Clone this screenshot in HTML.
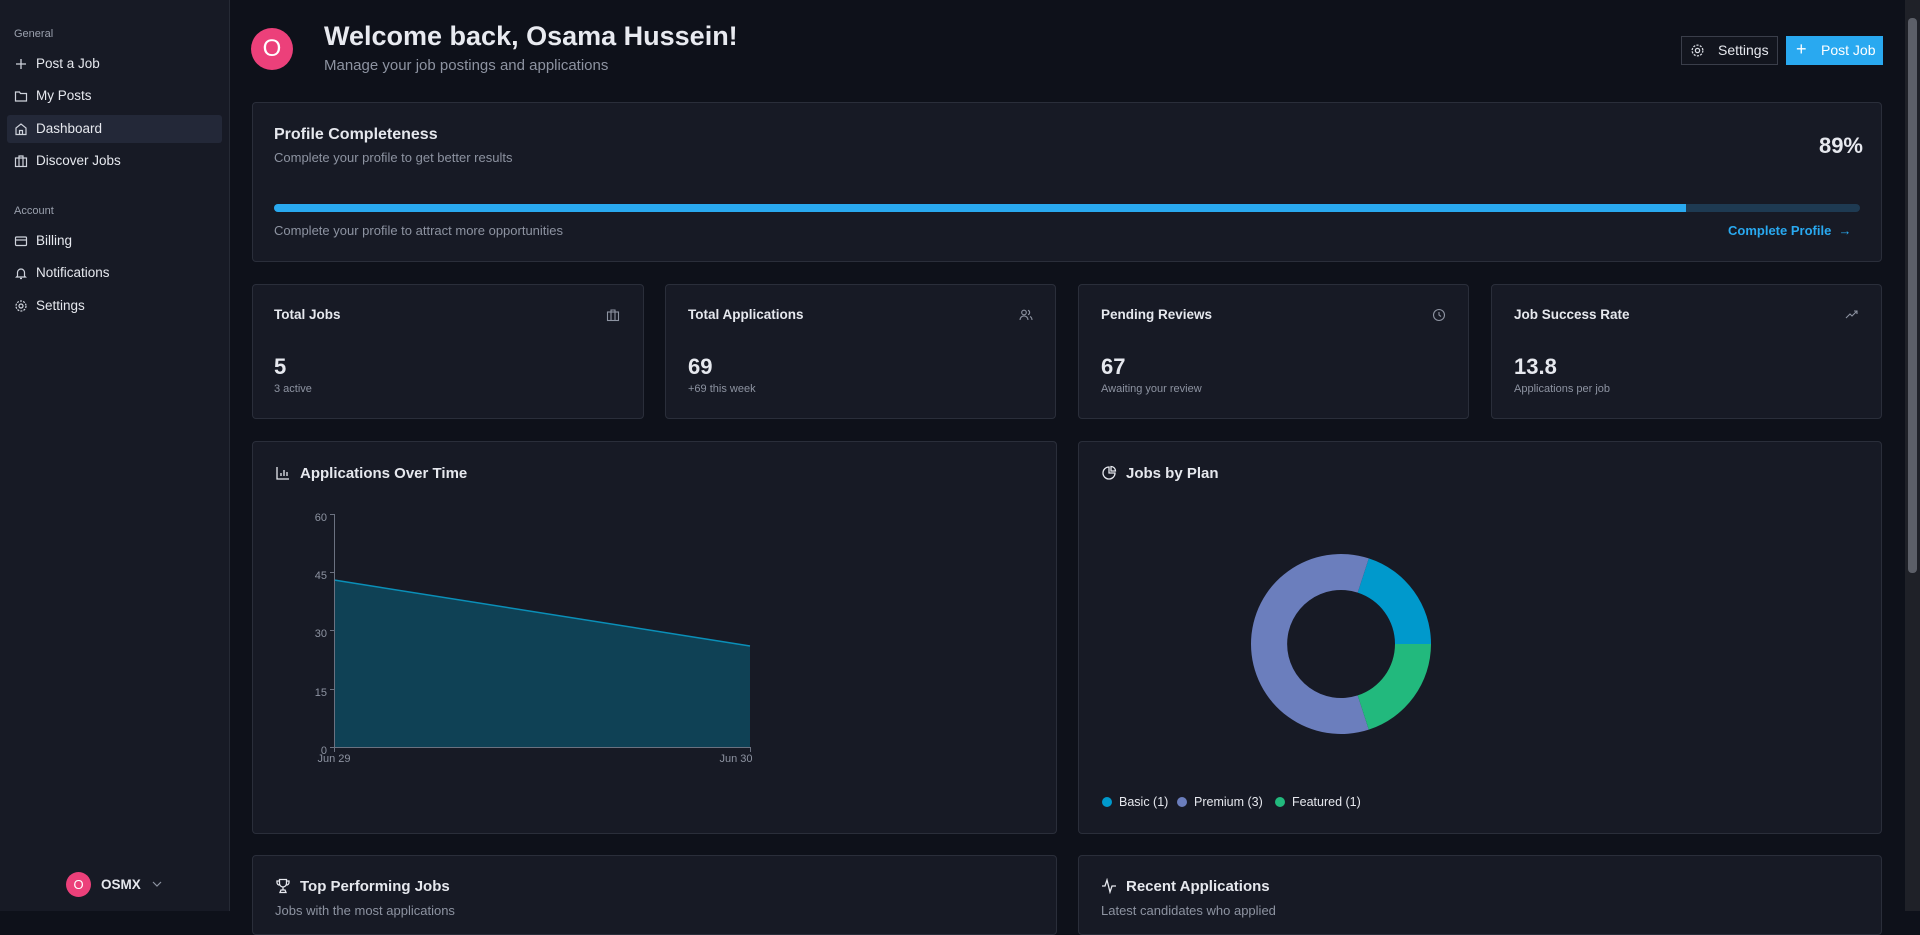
<!DOCTYPE html>
<html><head><meta charset="utf-8">
<style>
*{margin:0;padding:0;box-sizing:border-box}
body{width:1920px;height:911px;overflow:hidden;background:#0e111a;font-family:"Liberation Sans",sans-serif;color:#e6e8ee;position:relative}
.abs{position:absolute}
.sb{left:0;top:0;width:230px;height:911px;background:#171a25;border-right:1px solid #262a35}
.lab{font-size:11px;color:#9aa0ad}
.it{font-size:13.5px;color:#e6e8ee;left:36px}
.card{background:#171a25;border:1px solid #2a2e3a;border-radius:4px}
.t13{font-size:13.5px;font-weight:bold;color:#e6e8ee}
.g{color:#8d93a1}
</style></head><body>
<div class="abs sb"></div>
<div class="abs lab" style="left:14px;top:28px">General</div>
<div class="abs" style="left:7px;top:115px;width:215px;height:28px;background:#232838;border-radius:3px"></div>
<svg class="abs" style="left:14px;top:57px" width="14" height="14" viewBox="0 0 14 14" fill="none" stroke="#cfd3dc" stroke-width="1.3"><path d="M7 2v10M2 7h10"/></svg>
<div class="abs it" style="top:56px">Post a Job</div>
<svg class="abs" style="left:14px;top:89px" width="14" height="14" viewBox="0 0 14 14" fill="none" stroke="#cfd3dc" stroke-width="1.2"><path d="M1.5 3h4l1 1.5h6v7.5h-11z"/></svg>
<div class="abs it" style="top:88px">My Posts</div>
<svg class="abs" style="left:14px;top:122px" width="14" height="14" viewBox="0 0 14 14" fill="none" stroke="#cfd3dc" stroke-width="1.2"><path d="M2 6l5-4 5 4v6.5H2z M5.5 12.5v-4h3v4"/></svg>
<div class="abs it" style="top:121px">Dashboard</div>
<svg class="abs" style="left:14px;top:154px" width="14" height="14" viewBox="0 0 14 14" fill="none" stroke="#cfd3dc" stroke-width="1.2"><rect x="1.5" y="4" width="11" height="8.5"/><path d="M5 4V2h4v2M5 4v8.5M9 4v8.5"/></svg>
<div class="abs it" style="top:153px">Discover Jobs</div>
<div class="abs lab" style="left:14px;top:205px">Account</div>
<svg class="abs" style="left:14px;top:234px" width="14" height="14" viewBox="0 0 14 14" fill="none" stroke="#cfd3dc" stroke-width="1.2"><rect x="1.5" y="3" width="11" height="8.5" rx="1"/><path d="M1.5 6h11"/></svg>
<div class="abs it" style="top:233px">Billing</div>
<svg class="abs" style="left:14px;top:266px" width="14" height="14" viewBox="0 0 14 14" fill="none" stroke="#cfd3dc" stroke-width="1.2"><path d="M3.5 10V6.5a3.5 3.5 0 017 0V10l1 1h-9z M6 12.5h2"/></svg>
<div class="abs it" style="top:265px">Notifications</div>
<svg class="abs" style="left:14px;top:299px" width="14" height="14" viewBox="0 0 14 14" fill="none" stroke="#cfd3dc" stroke-width="1.2"><circle cx="7" cy="7" r="2"/><circle cx="7" cy="7" r="5" stroke-dasharray="2 1.2"/></svg>
<div class="abs it" style="top:298px">Settings</div>
<div class="abs" style="left:66px;top:872px;width:25px;height:25px;border-radius:50%;background:#ec407a;color:#fff;font-size:13px;text-align:center;line-height:25px">O</div>
<div class="abs" style="left:101px;top:877px;font-size:13.5px;font-weight:bold">OSMX</div>
<svg class="abs" style="left:152px;top:880px" width="10" height="8" viewBox="0 0 10 8" fill="none" stroke="#8d93a1" stroke-width="1.2"><path d="M1 2l4 4 4-4"/></svg>

<div class="abs" style="left:251px;top:28px;width:42px;height:42px;border-radius:50%;background:#ec407a;color:#fff;font-size:24px;text-align:center;line-height:42px;font-weight:normal">O</div>
<div class="abs" style="left:324px;top:21px;font-size:27px;font-weight:bold;color:#e8eaf0">Welcome back, Osama Hussein!</div>
<div class="abs g" style="left:324px;top:57px;font-size:15px">Manage your job postings and applications</div>
<div class="abs" style="left:1681px;top:36px;width:97px;height:29px;border:1px solid #3a3e4a;background:#12151e"></div>
<svg class="abs" style="left:1690px;top:43px" width="15" height="15" viewBox="0 0 14 14" fill="none" stroke="#d6d9e0" stroke-width="1.2"><circle cx="7" cy="7" r="2"/><circle cx="7" cy="7" r="5" stroke-dasharray="2 1.2"/></svg>
<div class="abs" style="left:1718px;top:42px;font-size:14px;color:#e6e8ee">Settings</div>
<div class="abs" style="left:1786px;top:36px;width:97px;height:29px;background:#29a9f0"></div>
<div class="abs" style="left:1796px;top:39px;font-size:18px;color:#fff">+</div>
<div class="abs" style="left:1821px;top:42px;font-size:14px;color:#fff">Post Job</div>

<div class="abs card" style="left:252px;top:102px;width:1630px;height:160px"></div>
<div class="abs" style="left:274px;top:126px;font-size:16px;font-weight:bold">Profile Completeness</div>
<div class="abs g" style="left:274px;top:150px;font-size:13px">Complete your profile to get better results</div>
<div class="abs" style="left:1813px;top:133px;font-size:22px;font-weight:bold;width:50px;text-align:right">89%</div>
<div class="abs" style="left:274px;top:204px;width:1586px;height:8px;background:#1e3a52;border-radius:4px"></div>
<div class="abs" style="left:274px;top:204px;width:1412px;height:8px;background:#29a9f0;border-radius:4px 0 0 4px"></div>
<div class="abs g" style="left:274px;top:223px;font-size:13px">Complete your profile to attract more opportunities</div>
<div class="abs" style="left:1728px;top:223px;font-size:13px;color:#29a9f0;font-weight:bold">Complete Profile &nbsp;→</div>

<div class="abs card" style="left:252px;top:284px;width:392px;height:135px"></div>
<div class="abs card" style="left:665px;top:284px;width:391px;height:135px"></div>
<div class="abs card" style="left:1078px;top:284px;width:391px;height:135px"></div>
<div class="abs card" style="left:1491px;top:284px;width:391px;height:135px"></div>
<div class="abs t13" style="left:274px;top:307px">Total Jobs</div>
<div class="abs t13" style="left:688px;top:307px">Total Applications</div>
<div class="abs t13" style="left:1101px;top:307px">Pending Reviews</div>
<div class="abs t13" style="left:1514px;top:307px">Job Success Rate</div>
<svg class="abs" style="left:606px;top:308px" width="14" height="14" viewBox="0 0 14 14" fill="none" stroke="#8d93a1" stroke-width="1.1"><rect x="1.5" y="4" width="11" height="8.5"/><path d="M5 4V2h4v2M5 4v8.5M9 4v8.5"/></svg>
<svg class="abs" style="left:1019px;top:308px" width="14" height="14" viewBox="0 0 14 14" fill="none" stroke="#8d93a1" stroke-width="1.1"><circle cx="5" cy="4.5" r="2.3"/><path d="M1 12c0-2.5 1.8-4 4-4s4 1.5 4 4"/><path d="M9 2.3a2.3 2.3 0 010 4.4M11 8.5c1.2.6 2 1.8 2 3.5"/></svg>
<svg class="abs" style="left:1432px;top:308px" width="14" height="14" viewBox="0 0 14 14" fill="none" stroke="#8d93a1" stroke-width="1.1"><circle cx="7" cy="7" r="5.5"/><path d="M7 4v3l2 1.5"/></svg>
<svg class="abs" style="left:1845px;top:308px" width="14" height="14" viewBox="0 0 14 14" fill="none" stroke="#8d93a1" stroke-width="1.1"><path d="M1 10l4-4 2 2 5-5M9 3h3v3"/></svg>
<div class="abs" style="left:274px;top:354px;font-size:22px;font-weight:bold">5</div>
<div class="abs" style="left:688px;top:354px;font-size:22px;font-weight:bold">69</div>
<div class="abs" style="left:1101px;top:354px;font-size:22px;font-weight:bold">67</div>
<div class="abs" style="left:1514px;top:354px;font-size:22px;font-weight:bold">13.8</div>
<div class="abs g" style="left:274px;top:383px;font-size:11px">3 active</div>
<div class="abs g" style="left:688px;top:383px;font-size:11px">+69 this week</div>
<div class="abs g" style="left:1101px;top:383px;font-size:11px">Awaiting your review</div>
<div class="abs g" style="left:1514px;top:383px;font-size:11px">Applications per job</div>

<div class="abs card" style="left:252px;top:441px;width:805px;height:393px"></div>
<div class="abs card" style="left:1078px;top:441px;width:804px;height:393px"></div>
<svg class="abs" style="left:275px;top:465px" width="16" height="16" viewBox="0 0 16 16" fill="none" stroke="#e6e8ee" stroke-width="1.3"><path d="M2 2v12h12M6 11V8M9 11V5M12 11V7"/></svg>
<div class="abs" style="left:300px;top:465px;font-size:15px;font-weight:bold">Applications Over Time</div>
<svg class="abs" style="left:1101px;top:465px" width="16" height="16" viewBox="0 0 16 16" fill="none" stroke="#e6e8ee" stroke-width="1.3"><path d="M8 2a6 6 0 106 6H8z"/><path d="M10 1.5a4.5 4.5 0 014.5 4.5H10z"/></svg>
<div class="abs" style="left:1126px;top:465px;font-size:15px;font-weight:bold">Jobs by Plan</div>

<svg class="abs" style="left:0;top:0" width="1920" height="911">
<polygon points="334,580 750,646 750,747 334,747" fill="#0f4155"/>
<line x1="334" y1="580" x2="750" y2="646" stroke="#0a8fb8" stroke-width="1.5"/>
<g stroke="#6b7180" stroke-width="1">
<line x1="334.5" y1="514" x2="334.5" y2="747"/><line x1="334" y1="747.5" x2="750" y2="747.5"/>
<line x1="330" y1="514.5" x2="334" y2="514.5"/><line x1="330" y1="572.5" x2="334" y2="572.5"/><line x1="330" y1="630.5" x2="334" y2="630.5"/><line x1="330" y1="689.5" x2="334" y2="689.5"/><line x1="330" y1="747.5" x2="334" y2="747.5"/>
<line x1="334.5" y1="747" x2="334.5" y2="752"/><line x1="750.5" y1="747" x2="750.5" y2="752"/>
</g>
<g font-family="Liberation Sans" font-size="11" fill="#8d93a1" text-anchor="end">
<text x="327" y="521">60</text><text x="327" y="579">45</text><text x="327" y="637">30</text><text x="327" y="696">15</text><text x="327" y="754">0</text>
</g>
<g font-family="Liberation Sans" font-size="11" fill="#8d93a1" text-anchor="middle"><text x="334" y="762">Jun 29</text><text x="736" y="762">Jun 30</text></g>
<path d="M1431,644 A90,90 0 0 0 1368.8,558.4 L1357.7,592.6 A54,54 0 0 1 1395,644 Z" fill="#0099cc"/>
<path d="M1368.8,558.4 A90,90 0 1 0 1368.8,729.6 L1357.7,695.4 A54,54 0 1 1 1357.7,592.6 Z" fill="#6b7ebd"/>
<path d="M1368.8,729.6 A90,90 0 0 0 1431,644 L1395,644 A54,54 0 0 1 1357.7,695.4 Z" fill="#22b97d"/>
<circle cx="1107" cy="802" r="5" fill="#0099cc"/><circle cx="1182" cy="802" r="5" fill="#6b7ebd"/><circle cx="1280" cy="802" r="5" fill="#22b97d"/>
<g font-family="Liberation Sans" font-size="12.5" fill="#e6e8ee"><text x="1119" y="806">Basic (1)</text><text x="1194" y="806">Premium (3)</text><text x="1292" y="806">Featured (1)</text></g>
</svg>

<div class="abs card" style="left:252px;top:855px;width:805px;height:80px"></div>
<div class="abs card" style="left:1078px;top:855px;width:804px;height:80px"></div>
<svg class="abs" style="left:275px;top:878px" width="16" height="16" viewBox="0 0 16 16" fill="none" stroke="#e6e8ee" stroke-width="1.3"><path d="M4.5 1.5h7v4a3.5 3.5 0 01-7 0z M4.5 3H2v1.5a2.5 2.5 0 002.5 2.5M11.5 3H14v1.5a2.5 2.5 0 01-2.5 2.5M8 9v3M5 14.5h6l-1-2.5H6z"/></svg>
<div class="abs" style="left:300px;top:878px;font-size:15px;font-weight:bold">Top Performing Jobs</div>
<div class="abs g" style="left:275px;top:903px;font-size:13px">Jobs with the most applications</div>
<svg class="abs" style="left:1101px;top:878px" width="16" height="16" viewBox="0 0 16 16" fill="none" stroke="#e6e8ee" stroke-width="1.3"><path d="M1 8h3l2-6 3 12 2-6h4"/></svg>
<div class="abs" style="left:1126px;top:878px;font-size:15px;font-weight:bold">Recent Applications</div>
<div class="abs g" style="left:1101px;top:903px;font-size:13px">Latest candidates who applied</div>

<div class="abs" style="left:1905px;top:0;width:15px;height:911px;background:#1f2128"></div>
<div class="abs" style="left:1908px;top:18px;width:9px;height:555px;background:#5c5f68;border-radius:4px"></div>
</body></html>
